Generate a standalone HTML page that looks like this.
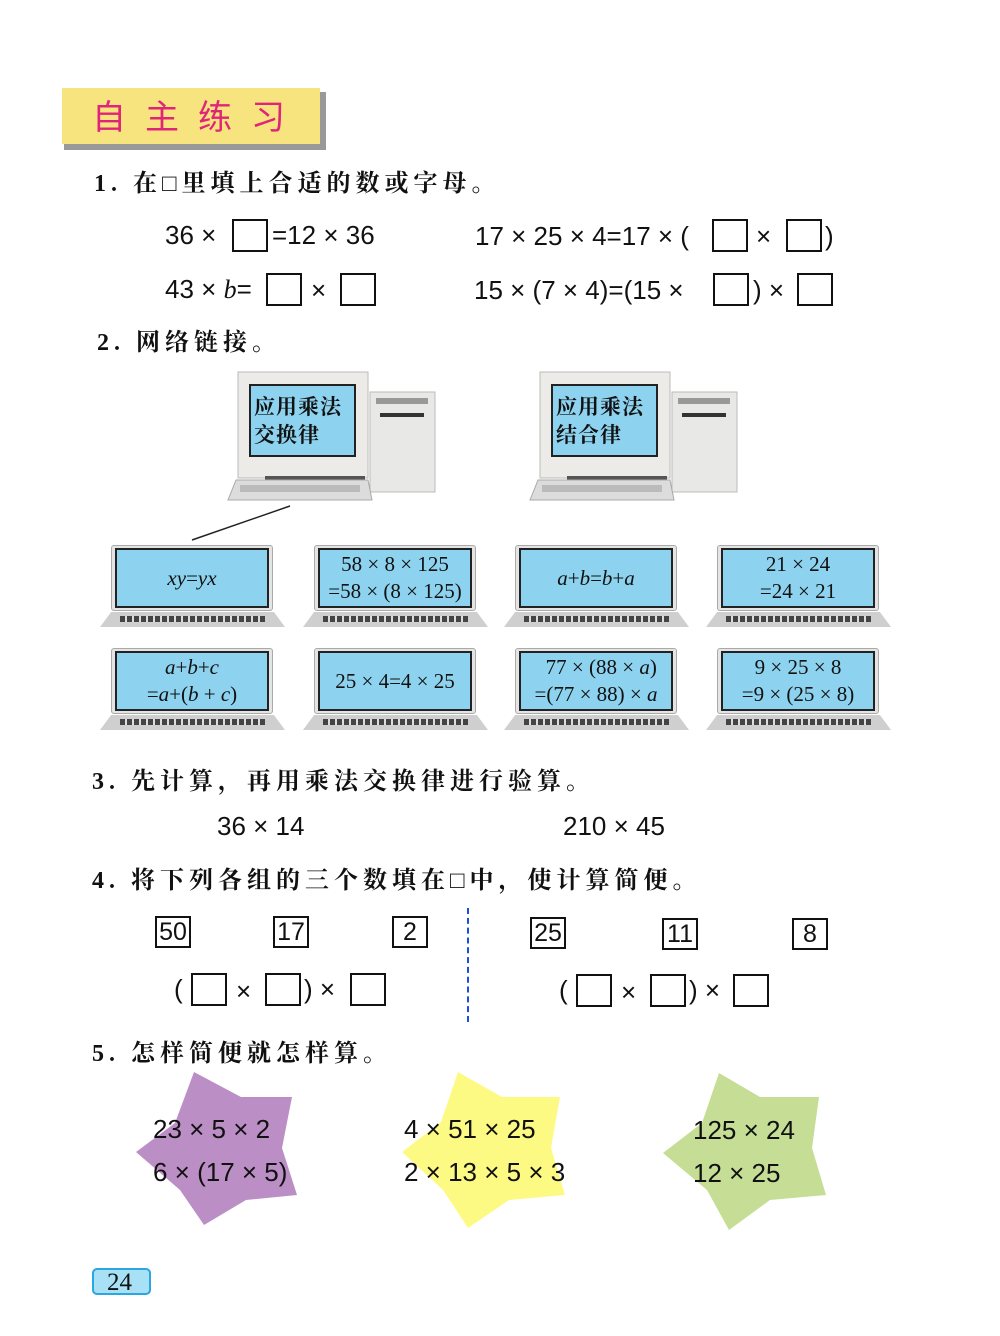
<!DOCTYPE html>
<html><head><meta charset="utf-8"><style>
body{margin:0;background:#fff;}
#p{position:relative;width:1000px;height:1336px;overflow:hidden;background:#fff;font-family:"Liberation Sans",sans-serif;}
.t{position:absolute;white-space:nowrap;line-height:1;}
.cj{font-family:"Liberation Serif","Noto Serif CJK SC",serif;font-size:24px;color:#111;letter-spacing:5px;font-weight:bold;}
.n{font-family:"Liberation Sans",sans-serif;font-size:26px;color:#111;}
.b{position:absolute;border:2px solid #111;box-sizing:border-box;background:#fff;}
.nb{position:absolute;border:2px solid #111;box-sizing:border-box;font-size:25px;line-height:28px;text-align:center;color:#111;}
.lap{position:absolute;width:185px;height:86px;}
.bz{position:absolute;left:11px;width:162px;top:0;height:66px;background:#e4e4e4;border:1px solid #aaa;border-radius:3px;box-sizing:border-box;}
.sc{position:absolute;left:15px;width:154px;top:3px;height:60px;background:#8dd2ee;border:2px solid #222;box-sizing:border-box;font-family:"Liberation Serif",serif;font-size:21px;color:#111;text-align:center;display:flex;flex-direction:column;justify-content:center;line-height:27px;}
.kb{position:absolute;left:0;top:67px;width:185px;height:15px;background:#cfcfcf;clip-path:polygon(6% 0,94% 0,100% 100%,0 100%);}
.ks{position:absolute;left:20px;top:71px;width:145px;height:6px;background:repeating-linear-gradient(90deg,#444 0 5px,#ddd 5px 7px);}
i{font-style:italic;}
</style></head><body><div id="p">

<div style="position:absolute;left:64px;top:92px;width:262px;height:58px;background:#999;"></div>
<div style="position:absolute;left:62px;top:88px;width:258px;height:56px;background:#f8e47e;"></div>
<div class="t" style="left:92px;top:98px;font-family:'Noto Sans CJK SC',sans-serif;font-size:34px;color:#e0247a;letter-spacing:19px;">自主练习</div>

<div class="t cj" style="left:94px;top:172px;">1. 在□里填上合适的数或字母。</div>
<div class="t n" style="left:165px;top:222px;">36 ×</div><div class="b" style="left:232px;top:219px;width:36px;height:33px;"></div>
<div class="t n" style="left:272px;top:222px;">=12 × 36</div>
<div class="t n" style="left:475px;top:223px;">17 × 25 × 4=17 × (</div><div class="b" style="left:712px;top:219px;width:36px;height:33px;"></div>
<div class="t n" style="left:756px;top:223px;">×</div><div class="b" style="left:786px;top:219px;width:36px;height:33px;"></div><div class="t n" style="left:825px;top:223px;">)</div>
<div class="t n" style="left:165px;top:276px;">43 × <i style="font-family:'Liberation Serif',serif">b</i>=</div><div class="b" style="left:266px;top:273px;width:36px;height:33px;"></div>
<div class="t n" style="left:311px;top:277px;">×</div><div class="b" style="left:340px;top:273px;width:36px;height:33px;"></div>
<div class="t n" style="left:474px;top:277px;">15 × (7 × 4)=(15 ×</div><div class="b" style="left:713px;top:273px;width:36px;height:33px;"></div>
<div class="t n" style="left:753px;top:277px;">) ×</div><div class="b" style="left:797px;top:273px;width:36px;height:33px;"></div>

<div class="t cj" style="left:97px;top:331px;">2. 网络链接。</div>

<svg style="position:absolute;left:0;top:0" width="1000" height="560">
<g id="d1">
<rect x="370" y="392" width="65" height="100" fill="#e8e8e6" stroke="#bbb"/>
<rect x="376" y="398" width="52" height="6" fill="#999"/><rect x="380" y="413" width="44" height="4" fill="#333"/>
<rect x="238" y="372" width="130" height="106" fill="#ecebe8" stroke="#bbb"/>
<rect x="249" y="384" width="107" height="73" fill="#222"/>
<rect x="251" y="386" width="103" height="69" fill="#8dd2ee"/>
<rect x="265" y="476" width="100" height="8" fill="#555"/>
<polygon points="236,480 368,480 372,500 228,500" fill="#dcdcdc" stroke="#aaa"/>
<rect x="240" y="485" width="120" height="7" fill="#bbb"/>
</g>
<use href="#d1" x="302" y="0"/>
<line x1="290" y1="506" x2="192" y2="540" stroke="#222" stroke-width="1.5"/>
</svg>
<div class="t" style="left:254px;top:392px;font-family:'Noto Serif CJK SC',serif;font-size:21px;line-height:28px;letter-spacing:1px;color:#111;font-weight:bold;">应用乘法<br>交换律</div>
<div class="t" style="left:556px;top:392px;font-family:'Noto Serif CJK SC',serif;font-size:21px;line-height:28px;letter-spacing:1px;color:#111;font-weight:bold;">应用乘法<br>结合律</div>

<div class="lap" style="left:100px;top:545px;"><div class="bz"></div><div class="sc"><span><i>xy</i>=<i>yx</i></span></div><div class="kb"></div><div class="ks"></div></div>
<div class="lap" style="left:303px;top:545px;"><div class="bz"></div><div class="sc"><span>58 × 8 × 125</span><span>=58 × (8 × 125)</span></div><div class="kb"></div><div class="ks"></div></div>
<div class="lap" style="left:504px;top:545px;"><div class="bz"></div><div class="sc"><span><i>a</i>+<i>b</i>=<i>b</i>+<i>a</i></span></div><div class="kb"></div><div class="ks"></div></div>
<div class="lap" style="left:706px;top:545px;"><div class="bz"></div><div class="sc"><span>21 × 24</span><span>=24 × 21</span></div><div class="kb"></div><div class="ks"></div></div>
<div class="lap" style="left:100px;top:648px;"><div class="bz"></div><div class="sc"><span><i>a</i>+<i>b</i>+<i>c</i></span><span>=<i>a</i>+(<i>b</i> + <i>c</i>)</span></div><div class="kb"></div><div class="ks"></div></div>
<div class="lap" style="left:303px;top:648px;"><div class="bz"></div><div class="sc"><span>25 × 4=4 × 25</span></div><div class="kb"></div><div class="ks"></div></div>
<div class="lap" style="left:504px;top:648px;"><div class="bz"></div><div class="sc"><span>&nbsp;&nbsp;77 × (88 × <i>a</i>)</span><span>=(77 × 88) × <i>a</i></span></div><div class="kb"></div><div class="ks"></div></div>
<div class="lap" style="left:706px;top:648px;"><div class="bz"></div><div class="sc"><span>9 × 25 × 8</span><span>=9 × (25 × 8)</span></div><div class="kb"></div><div class="ks"></div></div>

<div class="t cj" style="left:92px;top:770px;">3. 先计算，再用乘法交换律进行验算。</div>
<div class="t n" style="left:217px;top:813px;">36 × 14</div>
<div class="t n" style="left:563px;top:813px;">210 × 45</div>

<div class="t cj" style="left:92px;top:869px;">4. 将下列各组的三个数填在□中，使计算简便。</div>
<div class="nb" style="left:155px;top:916px;width:36px;height:32px;">50</div>
<div class="nb" style="left:273px;top:916px;width:36px;height:32px;">17</div>
<div class="nb" style="left:392px;top:916px;width:36px;height:32px;">2</div>
<div class="nb" style="left:530px;top:917px;width:36px;height:32px;">25</div>
<div class="nb" style="left:662px;top:918px;width:36px;height:32px;">11</div>
<div class="nb" style="left:792px;top:918px;width:36px;height:32px;">8</div>
<div style="position:absolute;left:467px;top:908px;height:114px;border-left:2px dashed #1a4fd8;"></div>
<div class="t n" style="left:174px;top:976px;">(</div><div class="b" style="left:191px;top:973px;width:36px;height:33px;"></div>
<div class="t n" style="left:236px;top:978px;">×</div><div class="b" style="left:265px;top:973px;width:36px;height:33px;"></div>
<div class="t n" style="left:304px;top:976px;">) ×</div><div class="b" style="left:350px;top:973px;width:36px;height:33px;"></div>
<div class="t n" style="left:559px;top:977px;">(</div><div class="b" style="left:576px;top:974px;width:36px;height:33px;"></div>
<div class="t n" style="left:621px;top:979px;">×</div><div class="b" style="left:650px;top:974px;width:36px;height:33px;"></div>
<div class="t n" style="left:689px;top:977px;">) ×</div><div class="b" style="left:733px;top:974px;width:36px;height:33px;"></div>

<div class="t cj" style="left:92px;top:1042px;">5. 怎样简便就怎样算。</div>
<svg style="position:absolute;left:0;top:0" width="1000" height="1336">
<polygon fill="#bb8fc6" points="194,1072 241,1097 292,1097 282,1148 297,1195 246,1200 204,1225 180,1190 136,1152 175,1123"/>
<polygon fill="#fdfa84" points="458,1072 502,1097 560,1097 551,1148 565,1195 509,1200 468,1228 443,1190 402,1152 441,1122"/>
<polygon fill="#c6dd96" points="719,1073 760,1097 819,1097 812,1148 826,1195 770,1200 729,1230 707,1190 663,1153 702,1123"/>
</svg>
<div class="t n" style="left:153px;top:1116px;">23 × 5 × 2</div>
<div class="t n" style="left:153px;top:1159px;">6 × (17 × 5)</div>
<div class="t n" style="left:404px;top:1116px;">4 × 51 × 25</div>
<div class="t n" style="left:404px;top:1159px;">2 × 13 × 5 × 3</div>
<div class="t n" style="left:693px;top:1117px;">125 × 24</div>
<div class="t n" style="left:693px;top:1160px;">12 × 25</div>

<div style="position:absolute;left:92px;top:1268px;width:59px;height:27px;background:#a8e0f6;border:2px solid #2aa6e0;border-radius:5px;box-sizing:border-box;"></div>
<div class="t" style="left:107px;top:1270px;font-family:'Liberation Serif',serif;font-size:25px;color:#111;">24</div>
</div></body></html>
